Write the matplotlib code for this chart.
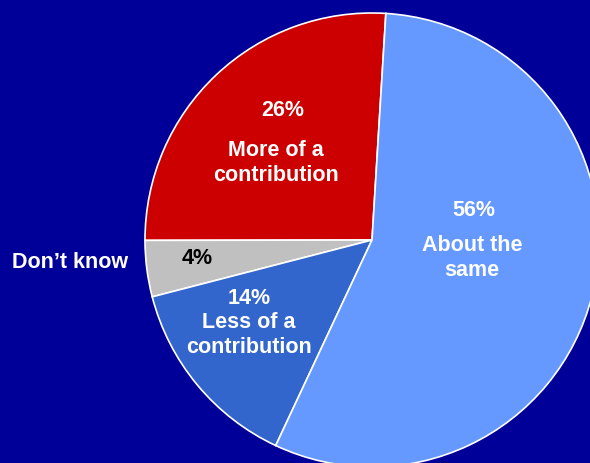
import matplotlib.pyplot as plt

plt.rcParams['font.family'] = ['Liberation Sans', 'DejaVu Sans']

# share of responses, drawn counterclockwise from the top
labels = ['More of a contribution', "Don't know", 'Less of a contribution', 'About the same']
shares = [26, 4, 14, 56]
colors = ['#CC0000', '#C0C0C0', '#3366CC', '#6699FF']
bg = '#000099'

fig = plt.figure(figsize=(5.9, 4.64), dpi=100, facecolor=bg)
ax = fig.add_axes([0, 0, 1, 1])
ax.set_facecolor(bg)

ax.pie(shares, colors=colors, startangle=86.5, counterclock=True,
       center=(372, 223), radius=227, frame=True,
       wedgeprops=dict(edgecolor='white', linewidth=1.2))
ax.set_xlim(0, 590)
ax.set_ylim(0, 464)
ax.axis('off')

fs = 15.5
txt = dict(color='white', fontsize=fs, fontweight='bold', ha='center', va='center',
           linespacing=1.2)
ax.text(283, 464 - 110, f'{shares[0]}%', **txt)
ax.text(276, 464 - 163, 'More of a\ncontribution', **txt)
ax.text(474, 464 - 211, f'{shares[3]}%', **txt)
ax.text(472, 464 - 258, 'About the\nsame', **txt)
ax.text(249, 464 - 323, f'{shares[2]}%\nLess of a\ncontribution', **txt)
ax.text(197, 464 - 258, f'{shares[1]}%', **dict(txt, color='black'))
ax.text(70, 464 - 263, "Don\u2019t know", **txt)

fig.savefig('out.png', dpi=100, facecolor=bg)
